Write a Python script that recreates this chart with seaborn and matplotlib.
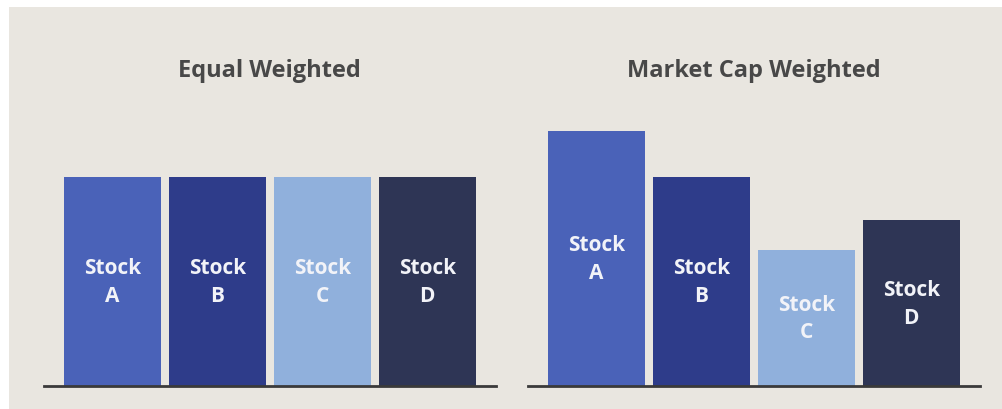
import matplotlib
matplotlib.use("Agg")
import matplotlib.pyplot as plt
import matplotlib.patches as mpatches
import pandas as pd
import seaborn as sns

# Portfolio weights (%) for four stocks under two weighting schemes
stocks = ["A", "B", "C", "D"]
equal_weights = [25, 25, 25, 25]
cap_weights = [30.5, 25, 16.3, 19.8]
panel_titles = ["Equal Weighted", "Market Cap Weighted"]

bar_colors = ["#4a62b8", "#2e3c8a", "#90b0dc", "#2e3555"]
bg = "#e9e6e0"

sns.set_theme(style="white")
plt.rcParams["font.family"] = ["Open Sans", "DejaVu Sans"]

W, H = 1002, 410
fig = plt.figure(figsize=(W / 100, H / 100), dpi=100, facecolor="white")
# beige backdrop with a thin white margin on the top and left
fig.patches.append(mpatches.Rectangle((9 / W, 0), 1 - 9 / W, 1 - 8 / H,
                                      transform=fig.transFigure,
                                      facecolor=bg, edgecolor="none",
                                      zorder=-10))

ymax = 40
px_per_unit = 209 / 25
ax_h = ymax * px_per_unit / H
ax_w = 451.5 / W
bottom = 23 / H

frames = []
for weights in (equal_weights, cap_weights):
    frames.append(pd.DataFrame({"stock": stocks, "weight": weights}))

lefts = [44 / W, 528 / W]
for left, df, title in zip(lefts, frames, panel_titles):
    ax = fig.add_axes([left, bottom, ax_w, ax_h])
    ax.set_facecolor("none")
    ax.set_zorder(1)
    sns.barplot(data=df, x="stock", y="weight", hue="stock",
                palette=bar_colors, width=0.92, saturation=1,
                linewidth=0, legend=False, ax=ax)
    ax.set_xlim(-0.65, 3.65)
    ax.set_ylim(0, ymax)
    for s in ("top", "right", "left"):
        ax.spines[s].set_visible(False)
    ax.spines["bottom"].set_color("#3a3a3a")
    ax.spines["bottom"].set_linewidth(2)
    ax.set_xticks([])
    ax.set_yticks([])
    ax.set_xlabel("")
    ax.set_ylabel("")
    for i, (name, w) in enumerate(zip(df["stock"], df["weight"])):
        ax.text(i, w / 2, f"Stock\n{name}", ha="center", va="center",
                color="#f2f3f8", fontsize=15, fontweight="bold",
                linespacing=1.42)
    # panel title at a fixed height above the bars
    ax.text(1.5, (H - 71 - 23) / (ax_h * H), title,
            transform=ax.get_xaxis_transform(),
            ha="center", va="center", fontsize=17, fontweight="bold",
            color="#484848")

fig.savefig("out.png", dpi=100, facecolor=fig.get_facecolor())
